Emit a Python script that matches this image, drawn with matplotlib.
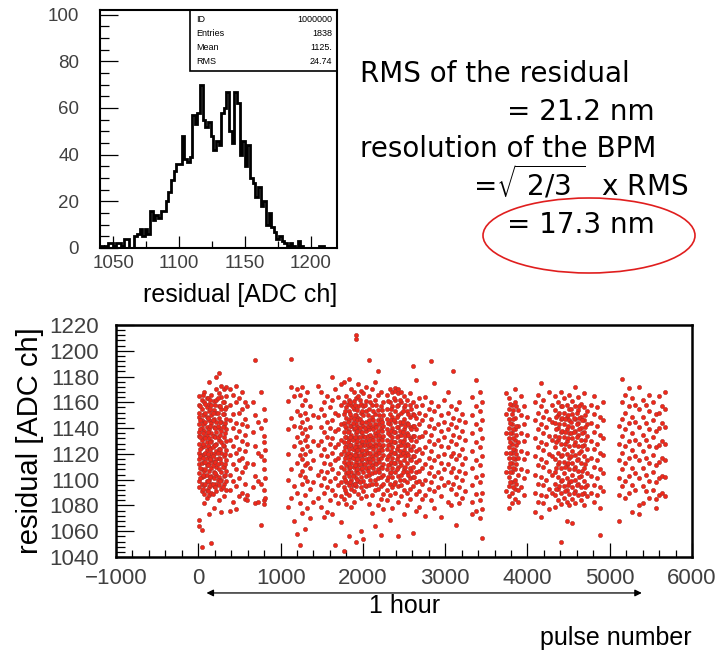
import numpy as np
import matplotlib.pyplot as plt
from matplotlib.patches import Ellipse, Rectangle
from matplotlib.ticker import MultipleLocator

plt.rcParams['font.family'] = ['Liberation Sans', 'DejaVu Sans']
plt.rcParams['mathtext.fontset'] = 'dejavusans'

W, H = 728, 653
TICK_COLOR = "#404040"
DOT_COLOR = "#f0281a"

# histogram of the residual, 2 ADC ch bins starting at 1040
HIST_START = 1040
HIST_BIN = 2
counts = [1, 0, 1, 2, 2, 1, 2, 2, 1, 4,
          4, 0, 0, 5, 6, 8, 5, 8, 6, 16,
          12, 14, 13, 16, 16, 20, 24, 29, 33, 36,
          36, 48, 38, 37, 39, 57, 53, 58, 70, 55,
          52, 54, 48, 42, 46, 44, 58, 60, 67, 50,
          45, 67, 62, 40, 46, 35, 44, 30, 28, 22,
          26, 18, 20, 10, 15, 9, 7, 4, 5, 3,
          2, 1, 2, 1, 0, 3, 1, 0, 0, 0,
          0, 0, 0, 1, 1, 0, 0, 0, 0, 0]
stat_names = ["ID", "Entries", "Mean", "RMS"]
stat_values = ["1000000", "1838", "1125.", "24.74"]

# residual vs pulse number, grouped in columns of pulses
col_x = [10, 40, 70, 100, 130, 160, 190, 220, 250, 280, 310, 340,
         390, 425, 460, 495, 530, 565, 595,
         660, 695, 730, 765, 800, 815,
         1090, 1125, 1160, 1200, 1235, 1265, 1295, 1325, 1360, 1395,
         1450, 1490, 1525, 1560, 1595, 1630, 1665, 1700, 1735,
         1770, 1800, 1830, 1860, 1890, 1915, 1945, 1975, 2005, 2040, 2075, 2110, 2145, 2180, 2215, 2250,
         2290, 2325, 2360, 2395, 2430, 2465, 2500, 2535, 2570, 2610, 2645, 2680,
         2720, 2760, 2800, 2830, 2870, 2910, 2950, 2990,
         3030, 3070, 3095, 3130, 3170, 3210, 3240,
         3330, 3380, 3420, 3450,
         3740, 3775, 3810, 3845, 3880, 3920, 3960, 3995,
         4090, 4130, 4160, 4195, 4230, 4265, 4300,
         4335, 4370, 4405, 4440, 4475, 4510, 4545, 4580, 4615, 4650, 4685, 4720,
         4770, 4810, 4850, 4885, 4920,
         5110, 5150, 5190, 5230, 5270, 5310, 5350,
         5400, 5440, 5480, 5520, 5560, 5600, 5640, 5675]
col_y = [
    [1165, 1158, 1152, 1149, 1143, 1137, 1134, 1128, 1121, 1116, 1112, 1105, 1099, 1094, 1069, 1064],
    [1162, 1155, 1146, 1140, 1131, 1125, 1119, 1113, 1108, 1102, 1097, 1091, 1061, 1048],
    [1168, 1160, 1151, 1144, 1138, 1133, 1126, 1120, 1114, 1107, 1103, 1096, 1089, 1082],
    [1163, 1156, 1149, 1141, 1135, 1129, 1123, 1117, 1111, 1104, 1099, 1092, 1086],
    [1176, 1159, 1153, 1146, 1139, 1132, 1125, 1118, 1113, 1107, 1100, 1094, 1088, 1073],
    [1166, 1158, 1150, 1144, 1136, 1130, 1121, 1115, 1109, 1103, 1097, 1090, 1051],
    [1161, 1154, 1147, 1141, 1134, 1127, 1120, 1114, 1106, 1101, 1095, 1078],
    [1180, 1170, 1162, 1152, 1145, 1137, 1128, 1122, 1116, 1110, 1104, 1097, 1091],
    [1183, 1167, 1157, 1148, 1140, 1131, 1124, 1117, 1108, 1102, 1096, 1084],
    [1173, 1164, 1155, 1145, 1138, 1129, 1121, 1113, 1106, 1100, 1093, 1075],
    [1170, 1160, 1151, 1142, 1133, 1126, 1118, 1110, 1103, 1097, 1087],
    [1172, 1165, 1156, 1147, 1139, 1130, 1123, 1115, 1107, 1099, 1092],
    [1170, 1158, 1146, 1131, 1119, 1104, 1092, 1076],
    [1166, 1151, 1140, 1126, 1112, 1099, 1083],
    [1173, 1160, 1144, 1133, 1121, 1108, 1095, 1077],
    [1163, 1152, 1138, 1124, 1115, 1101, 1087],
    [1168, 1155, 1143, 1130, 1117, 1106, 1090],
    [1160, 1147, 1135, 1122, 1110, 1097, 1085],
    [1157, 1142, 1128, 1113, 1088, 1084],
    [1160, 1137, 1112, 1094],
    [1193, 1150, 1126, 1103, 1082],
    [1145, 1121, 1099, 1083],
    [1168, 1140, 1118, 1097, 1065],
    [1155, 1134, 1129, 1115, 1108, 1092, 1084, 1081],
    [1146, 1123, 1101, 1086],
    [1161, 1139, 1120, 1100, 1079],
    [1194, 1172, 1148, 1108, 1086],
    [1165, 1142, 1126, 1095, 1068],
    [1170, 1153, 1133, 1113, 1090, 1058],
    [1166, 1150, 1141, 1129, 1119, 1104, 1082, 1049],
    [1172, 1158, 1145, 1136, 1124, 1116, 1107, 1097, 1074],
    [1162, 1152, 1139, 1131, 1120, 1111, 1102, 1088, 1062],
    [1168, 1147, 1134, 1126, 1113, 1099, 1078],
    [1157, 1141, 1122, 1109, 1093, 1070],
    [1150, 1130, 1115, 1098, 1083],
    [1173, 1149, 1127, 1104, 1086],
    [1168, 1155, 1141, 1130, 1119, 1107, 1096, 1079],
    [1160, 1150, 1137, 1124, 1113, 1101, 1090, 1071],
    [1165, 1145, 1133, 1118, 1106, 1094, 1075],
    [1156, 1140, 1128, 1112, 1099, 1084],
    [1180, 1162, 1146, 1132, 1121, 1108, 1092, 1073],
    [1170, 1152, 1138, 1125, 1115, 1101, 1088, 1049],
    [1164, 1150, 1139, 1128, 1117, 1105, 1096, 1082],
    [1174, 1158, 1143, 1131, 1120, 1110, 1098, 1087, 1067],
    [1176, 1160, 1151, 1144, 1137, 1129, 1122, 1114, 1108, 1102, 1094, 1085, 1045],
    [1165, 1156, 1148, 1140, 1133, 1126, 1119, 1111, 1105, 1098, 1090, 1081],
    [1178, 1162, 1153, 1146, 1138, 1131, 1124, 1116, 1109, 1103, 1096, 1088, 1056],
    [1170, 1158, 1149, 1142, 1135, 1127, 1120, 1113, 1106, 1100, 1093, 1079],
    [1168, 1161, 1155, 1147, 1139, 1132, 1124, 1117, 1110, 1104, 1097, 1091, 1083],
    [1212, 1209, 1163, 1150, 1143, 1136, 1128, 1121, 1114, 1107, 1101, 1095, 1052],
    [1174, 1165, 1157, 1148, 1141, 1133, 1125, 1118, 1111, 1105, 1099, 1089],
    [1169, 1159, 1152, 1144, 1137, 1129, 1122, 1115, 1108, 1102, 1094, 1086, 1060],
    [1167, 1157, 1150, 1142, 1134, 1127, 1119, 1112, 1106, 1099, 1091, 1054],
    [1172, 1161, 1153, 1145, 1138, 1130, 1123, 1116, 1109, 1103, 1095, 1087],
    [1193, 1165, 1155, 1146, 1139, 1131, 1125, 1117, 1110, 1104, 1096, 1081],
    [1170, 1158, 1149, 1141, 1133, 1126, 1118, 1111, 1105, 1097, 1088, 1074],
    [1176, 1162, 1151, 1143, 1136, 1128, 1121, 1113, 1106, 1100, 1092, 1064],
    [1184, 1166, 1154, 1146, 1138, 1131, 1123, 1116, 1108, 1101, 1093, 1080],
    [1168, 1157, 1147, 1140, 1132, 1125, 1117, 1110, 1102, 1095, 1085, 1057],
    [1160, 1150, 1142, 1134, 1127, 1119, 1112, 1104, 1097, 1089, 1077],
    [1166, 1155, 1147, 1139, 1131, 1124, 1116, 1108, 1100, 1092, 1084],
    [1170, 1160, 1151, 1143, 1135, 1128, 1120, 1112, 1105, 1097, 1088, 1069],
    [1168, 1157, 1149, 1140, 1133, 1125, 1117, 1109, 1102, 1094, 1078],
    [1171, 1169, 1162, 1153, 1145, 1137, 1129, 1121, 1113, 1106, 1098, 1090],
    [1170, 1167, 1158, 1150, 1141, 1134, 1126, 1118, 1110, 1103, 1095, 1083, 1056],
    [1168, 1160, 1152, 1143, 1135, 1127, 1119, 1111, 1104, 1096, 1087],
    [1165, 1156, 1147, 1139, 1131, 1123, 1115, 1108, 1100, 1092, 1073],
    [1162, 1153, 1144, 1136, 1128, 1121, 1113, 1106, 1098, 1090, 1080],
    [1167, 1158, 1149, 1141, 1132, 1124, 1116, 1109, 1101, 1093, 1085],
    [1188, 1160, 1151, 1142, 1134, 1126, 1118, 1110, 1102, 1095, 1059],
    [1177, 1157, 1148, 1139, 1130, 1122, 1114, 1106, 1098, 1089, 1076],
    [1163, 1152, 1143, 1133, 1124, 1115, 1107, 1099, 1091, 1079],
    [1158, 1146, 1134, 1121, 1109, 1097, 1085],
    [1164, 1150, 1137, 1125, 1112, 1100, 1088, 1072],
    [1155, 1142, 1130, 1117, 1105, 1093],
    [1192, 1160, 1147, 1135, 1122, 1110, 1098, 1084],
    [1175, 1153, 1140, 1128, 1115, 1103, 1091, 1078],
    [1157, 1143, 1131, 1118, 1106, 1094],
    [1150, 1138, 1126, 1113, 1101, 1087, 1071],
    [1162, 1145, 1133, 1120, 1108, 1096],
    [1168, 1152, 1139, 1125, 1112, 1098, 1083],
    [1157, 1143, 1130, 1118, 1106, 1093, 1080],
    [1184, 1148, 1135, 1121, 1109, 1097],
    [1155, 1141, 1128, 1116, 1102, 1089, 1065],
    [1160, 1146, 1133, 1119, 1107, 1094, 1082],
    [1151, 1138, 1124, 1112, 1100, 1086],
    [1145, 1131, 1117, 1105, 1091],
    [1164, 1150, 1136, 1122, 1109, 1096, 1083, 1073],
    [1177, 1157, 1143, 1129, 1115, 1102, 1089, 1076],
    [1168, 1153, 1139, 1125, 1111, 1098, 1084, 1070],
    [1160, 1146, 1132, 1118, 1104, 1090, 1077, 1055],
    [1167, 1151, 1136, 1121, 1106, 1091],
    [1163, 1155, 1147, 1140, 1132, 1125, 1117, 1110, 1102, 1095, 1087, 1078],
    [1158, 1151, 1143, 1136, 1128, 1121, 1113, 1106, 1098, 1090, 1082],
    [1170, 1160, 1148, 1139, 1131, 1123, 1116, 1108, 1100, 1093, 1085],
    [1154, 1142, 1129, 1117, 1104, 1092, 1083],
    [1165, 1150, 1136, 1122, 1108, 1094],
    [1157, 1143, 1130, 1116, 1101, 1088],
    [1149, 1135, 1121, 1107],
    [1160, 1146, 1132, 1118, 1104, 1090, 1075],
    [1166, 1152, 1139, 1125, 1111, 1097, 1083],
    [1175, 1157, 1143, 1129, 1116, 1102, 1088, 1071],
    [1162, 1149, 1136, 1123, 1110, 1096, 1082],
    [1153, 1141, 1128, 1114, 1100, 1087],
    [1168, 1147, 1134, 1120, 1107, 1093, 1077],
    [1158, 1145, 1131, 1118, 1104, 1090],
    [1165, 1154, 1144, 1134, 1125, 1116, 1106, 1097, 1088, 1079],
    [1160, 1150, 1140, 1131, 1121, 1112, 1102, 1093, 1084],
    [1168, 1157, 1147, 1137, 1128, 1118, 1109, 1099, 1090, 1081, 1052],
    [1163, 1152, 1143, 1133, 1124, 1114, 1105, 1095, 1086],
    [1158, 1149, 1139, 1130, 1120, 1111, 1101, 1092, 1083, 1068],
    [1166, 1155, 1146, 1136, 1126, 1117, 1108, 1098, 1089, 1080],
    [1161, 1151, 1141, 1132, 1122, 1113, 1104, 1094, 1085, 1066],
    [1172, 1157, 1147, 1138, 1129, 1119, 1110, 1100, 1091, 1082],
    [1164, 1154, 1144, 1135, 1126, 1116, 1107, 1097, 1088],
    [1159, 1149, 1140, 1131, 1122, 1113, 1103, 1094, 1084],
    [1167, 1156, 1146, 1137, 1127, 1118, 1109, 1099, 1090, 1080],
    [1153, 1143, 1134, 1124, 1115, 1105, 1096, 1087],
    [1158, 1144, 1130, 1117, 1103, 1090],
    [1165, 1151, 1137, 1124, 1110, 1096, 1083],
    [1156, 1142, 1128, 1115, 1101, 1088],
    [1149, 1135, 1121, 1108, 1094, 1078, 1057],
    [1160, 1146, 1132, 1119, 1105, 1091],
    [1142, 1128, 1115, 1101, 1088, 1068],
    [1178, 1160, 1147, 1134, 1121, 1108, 1095],
    [1166, 1152, 1139, 1126, 1113, 1099, 1086],
    [1171, 1157, 1144, 1130, 1117, 1103, 1090],
    [1163, 1149, 1136, 1123, 1109, 1096, 1075],
    [1158, 1145, 1131, 1118, 1105, 1092],
    [1172, 1155, 1141, 1128, 1115, 1101, 1080, 1073],
    [1162, 1149, 1135, 1122, 1109, 1095, 1082],
    [1158, 1144, 1131, 1117, 1104, 1091],
    [1166, 1153, 1139, 1126, 1113, 1099, 1086],
    [1160, 1146, 1133, 1119, 1106, 1092],
    [1151, 1138, 1125, 1111, 1098, 1085, 1078],
    [1165, 1152, 1140, 1127, 1114, 1101, 1088],
    [1157, 1144, 1130, 1117, 1103, 1090],
    [1168, 1155, 1141, 1128, 1115, 1102, 1087],
]

# extra pulses filling the dense runs
fill_x = [25, 55, 85, 115, 145, 175, 205, 235, 265, 295, 325,
          1785, 1815, 1845, 1875, 1903, 1930, 1960, 1990, 2022, 2057, 2092, 2127, 2162, 2197, 2232,
          2307, 2342, 2377, 2412, 2447, 2482, 2517, 2552, 2590, 2627,
          3792, 3827, 3862,
          4352, 4387, 4422, 4457, 4492, 4527, 4562, 4597, 4632, 4667, 4702]
fill_y = [
    [1157, 1139, 1124, 1101, 1118, 1146, 1133, 1109],
    [1150, 1136, 1166, 1117, 1104, 1128, 1093, 1143],
    [1159, 1145, 1121, 1132, 1108, 1097, 1152, 1114],
    [1163, 1137, 1126, 1099, 1148, 1111, 1120, 1091],
    [1155, 1142, 1129, 1102, 1116, 1162, 1096, 1124],
    [1152, 1134, 1111, 1125, 1097, 1146, 1118, 1089],
    [1158, 1140, 1127, 1105, 1114, 1133, 1094],
    [1163, 1142, 1121, 1112, 1100, 1133, 1152],
    [1157, 1135, 1116, 1124, 1099, 1145],
    [1160, 1141, 1127, 1110, 1094, 1151],
    [1155, 1136, 1120, 1104, 1144, 1112],
    [1153, 1133, 1117, 1100, 1142, 1125, 1092],
    [1159, 1137, 1121, 1106, 1145, 1129, 1113],
    [1151, 1142, 1127, 1110, 1098, 1133, 1118, 1160],
    [1156, 1131, 1117, 1103, 1144, 1124, 1096],
    [1158, 1140, 1125, 1111, 1097, 1133, 1119, 1150],
    [1154, 1138, 1123, 1108, 1146, 1116, 1130, 1100],
    [1162, 1140, 1126, 1112, 1098, 1133, 1119, 1147],
    [1153, 1137, 1123, 1109, 1145, 1116, 1130],
    [1158, 1140, 1127, 1112, 1096, 1133, 1120],
    [1150, 1134, 1121, 1107, 1142, 1114, 1127],
    [1160, 1143, 1128, 1114, 1100, 1135, 1121],
    [1153, 1139, 1124, 1109, 1146, 1131, 1116],
    [1158, 1141, 1126, 1112, 1097, 1134, 1119],
    [1150, 1135, 1121, 1106, 1143, 1114, 1128],
    [1154, 1138, 1123, 1109, 1145, 1131],
    [1161, 1144, 1127, 1111, 1136, 1118, 1102],
    [1155, 1138, 1122, 1106, 1146, 1130, 1114],
    [1163, 1146, 1129, 1113, 1137, 1121, 1097],
    [1157, 1141, 1124, 1108, 1149, 1133, 1116],
    [1162, 1145, 1130, 1114, 1138, 1122, 1100],
    [1153, 1137, 1121, 1106, 1145, 1129],
    [1158, 1142, 1126, 1110, 1134, 1118],
    [1151, 1135, 1119, 1104, 1143, 1127],
    [1155, 1139, 1123, 1107, 1131, 1115],
    [1150, 1134, 1118, 1102, 1142],
    [1159, 1144, 1129, 1113, 1098, 1136, 1121, 1106],
    [1154, 1139, 1124, 1109, 1094, 1147, 1132, 1117],
    [1157, 1142, 1127, 1112, 1097, 1135, 1120],
    [1149, 1129, 1109, 1139, 1093],
    [1152, 1133, 1114, 1095, 1143],
    [1157, 1138, 1119, 1100, 1148],
    [1147, 1128, 1110, 1091, 1137],
    [1150, 1132, 1113, 1096, 1142],
    [1155, 1136, 1118, 1099, 1145],
    [1148, 1127, 1108, 1090, 1137],
    [1152, 1133, 1115, 1096, 1143],
    [1157, 1139, 1121, 1102, 1148],
    [1146, 1126, 1107, 1089, 1136],
    [1150, 1131, 1112, 1094, 1141],
]

pulse = []
resid = []
for x, ys in zip(col_x + fill_x, col_y + fill_y):
    for y in ys:
        pulse.append(x)
        resid.append(y)


def fx(px):
    return px / W


def fy(py):
    return 1 - py / H


fig = plt.figure(figsize=(W / 100, H / 100), dpi=100)

# ---- top histogram
ax1 = fig.add_axes([fx(100), fy(248), 237 / W, 238 / H])
edges = HIST_START + HIST_BIN * np.arange(len(counts) + 1)
ax1.stairs(counts, edges, color="black", lw=2.0)
ax1.set_xlim(1040, 1220)
ax1.set_ylim(0, 102)
ax1.xaxis.set_major_locator(MultipleLocator(50))
ax1.xaxis.set_minor_locator(MultipleLocator(25))
ax1.yaxis.set_major_locator(MultipleLocator(20))
ax1.yaxis.set_minor_locator(MultipleLocator(5))
ax1.tick_params(which="both", direction="in", top=False, right=False,
                colors="black", labelcolor=TICK_COLOR, labelsize=13.5)
ax1.tick_params(axis="y", which="major", length=13, width=0.9, pad=15)
ax1.tick_params(axis="y", which="minor", length=6.5, width=0.9)
ax1.tick_params(axis="x", which="major", length=9, width=0.9, pad=5)
ax1.tick_params(axis="x", which="minor", length=5, width=0.9)
for s in ax1.spines.values():
    s.set_linewidth(1.5)

ax1.add_patch(Rectangle((0.38, 0.744), 0.62, 0.256, transform=ax1.transAxes,
                        fill=False, ec="black", lw=1.2))
for i, (name, val) in enumerate(zip(stat_names, stat_values)):
    yy = 0.958 - i * 0.058
    ax1.text(0.405, yy, name, transform=ax1.transAxes, fontsize=6.5,
             ha="left", va="center")
    ax1.text(0.98, yy, val, transform=ax1.transAxes, fontsize=6.5,
             ha="right", va="center")

fig.text(fx(337), fy(295), "residual [ADC ch]", fontsize=18,
         ha="right", va="center")

# ---- text on the right
BIG = dict(fontsize=20, family=["DejaVu Sans"])
fig.text(fx(360), fy(82), "RMS of the residual", ha="left", va="baseline", **BIG)
fig.text(fx(655), fy(120), "= 21.2 nm", ha="right", va="baseline", **BIG)
fig.text(fx(360), fy(157), "resolution of the BPM", ha="left", va="baseline", **BIG)
fig.text(fx(688), fy(195), r"=$\sqrt{\ 2/3\ }$  x RMS", ha="right", va="baseline", **BIG)
fig.text(fx(655), fy(233), "= 17.3 nm", ha="right", va="baseline", **BIG)
fig.add_artist(Ellipse((fx(589), fy(235.5)), 212 / W, 75 / H,
                       transform=fig.transFigure, fill=False,
                       ec="#e01e1e", lw=1.2))

# ---- bottom scatter
ax2 = fig.add_axes([fx(116), fy(557), 576 / W, 232 / H])
ax2.plot(pulse, resid, "o", ms=3.0, mfc=DOT_COLOR, mec="#a8302a", mew=0.4,
         ls="none")
ax2.set_xlim(-1000, 6000)
ax2.set_ylim(1040, 1220)
ax2.xaxis.set_major_locator(MultipleLocator(1000))
ax2.xaxis.set_minor_locator(MultipleLocator(200))
ax2.yaxis.set_major_locator(MultipleLocator(20))
ax2.yaxis.set_minor_locator(MultipleLocator(4))
ax2.tick_params(which="both", direction="in", top=False, right=False,
                colors="black", labelcolor=TICK_COLOR, labelsize=16)
ax2.tick_params(axis="y", which="major", length=13, width=0.9, pad=12)
ax2.tick_params(axis="y", which="minor", length=6.5, width=0.9)
ax2.tick_params(axis="x", which="major", length=10, width=0.9, pad=8)
ax2.tick_params(axis="x", which="minor", length=5, width=0.9)
for s in ax2.spines.values():
    s.set_linewidth(1.8)
ax2.set_xticks(ax2.get_xticks())
ax2.set_xticklabels([f"{int(t)}".replace("-", "\u2212") for t in ax2.get_xticks()])
ax2.set_xlim(-1000, 6000)

fig.text(fx(30), fy(441), "residual [ADC ch]", fontsize=21, rotation=90,
         ha="center", va="center")

ax2.annotate("", xy=(5390, -0.155), xytext=(100, -0.155),
             xycoords=ax2.get_xaxis_transform(),
             textcoords=ax2.get_xaxis_transform(),
             arrowprops=dict(arrowstyle="<|-|>", color="black", lw=0.9,
                             mutation_scale=10, shrinkA=0, shrinkB=0),
             annotation_clip=False)
ax2.text(2510, -0.212, "1 hour", transform=ax2.get_xaxis_transform(),
         fontsize=18, ha="center", va="center")
fig.text(fx(616), fy(638), "pulse number", fontsize=18, ha="center", va="center")

fig.savefig("out.png", dpi=100)
